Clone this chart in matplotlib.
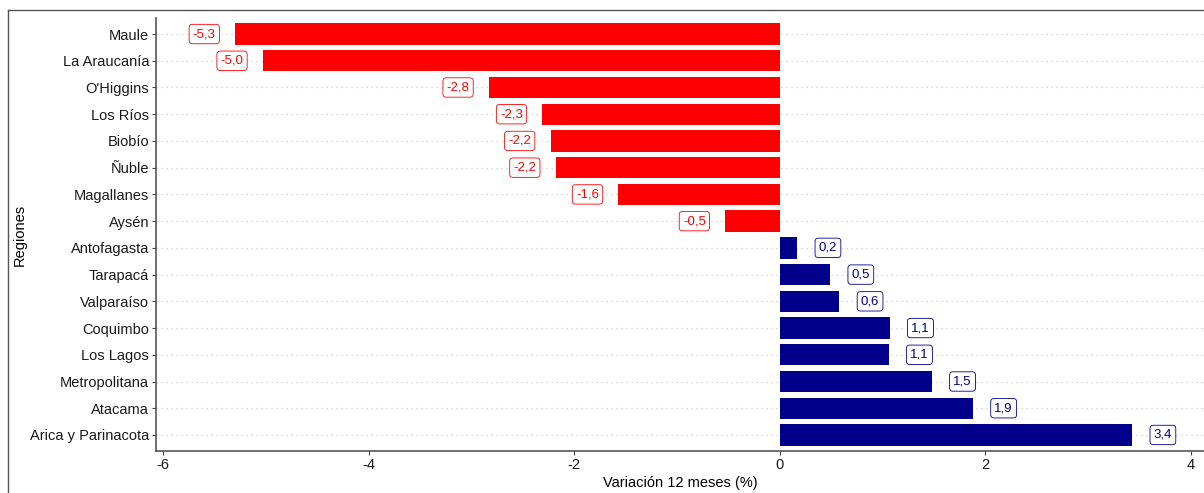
import matplotlib
matplotlib.use("Agg")
import matplotlib.pyplot as plt
from matplotlib.lines import Line2D

regiones = ["Maule", "La Araucanía", "O'Higgins", "Los Ríos", "Biobío", "Ñuble",
            "Magallanes", "Aysén", "Antofagasta", "Tarapacá", "Valparaíso",
            "Coquimbo", "Los Lagos", "Metropolitana", "Atacama", "Arica y Parinacota"]
variacion = [-5.30, -5.03, -2.83, -2.31, -2.23, -2.18, -1.57, -0.53,
             0.17, 0.49, 0.58, 1.07, 1.06, 1.48, 1.88, 3.43]
xticks = [-6, -4, -2, 0, 2, 4]

plt.rcParams['font.family'] = ['Liberation Sans', 'DejaVu Sans']

RED = "#FF0000"
BLUE = "#00008B"

fig = plt.figure(figsize=(12.04, 4.93), dpi=100)
ax = fig.add_axes([156/1204, 1 - 451/493, 1 - 156/1204, (451 - 18)/493])

n = len(regiones)
ypos = list(range(n))
colors = [RED if v < 0 else BLUE for v in variacion]

for y in ypos:
    ax.axhline(y, color="#cccccc", lw=0.9, ls=(0, (1, 3)), zorder=0)

ax.barh(ypos, variacion, height=0.8, color=colors, zorder=2)

for y, v, c in zip(ypos, variacion, colors):
    off = -0.3 if v < 0 else 0.3
    lab = f"{v:.1f}".replace(".", ",")
    ax.text(v + off, y, lab, ha="center", va="center", fontsize=9.5, color=c, zorder=3,
            bbox=dict(boxstyle="round,pad=0.28,rounding_size=0.25", fc="white", ec=c, lw=0.6, alpha=1))

ax.set_ylim(n - 1 + 0.6, -0.6)
ax.set_xlim(-6.07, 4.13)
ax.set_yticks(ypos)
ax.set_yticklabels(regiones, fontsize=10.5, color="#1a1a1a")
ax.set_xticks(xticks)
ax.set_xticklabels([str(t) for t in xticks], fontsize=10.5, color="#1a1a1a")
ax.tick_params(axis="both", length=3, width=0.8, color="#444444", pad=2)
for s in ["top", "right"]:
    ax.spines[s].set_visible(False)
for s in ["left", "bottom"]:
    ax.spines[s].set_color("#555555")
    ax.spines[s].set_linewidth(1.2)

ax.set_xlabel("Variación 12 meses (%)", fontsize=10.5, labelpad=3)
ax.set_ylabel("Regiones", fontsize=10.5, va="center")
ax.yaxis.set_label_coords((20 - 156) / 1048, 0.5)

# outer frame (left and top edges visible)
fig.add_artist(Line2D([8/1204, 8/1204], [0, 1 - 10/493], color="#555555", lw=1, transform=fig.transFigure))
fig.add_artist(Line2D([8/1204, 1], [1 - 10/493, 1 - 10/493], color="#555555", lw=1, transform=fig.transFigure))

fig.savefig("out.png", dpi=100)
